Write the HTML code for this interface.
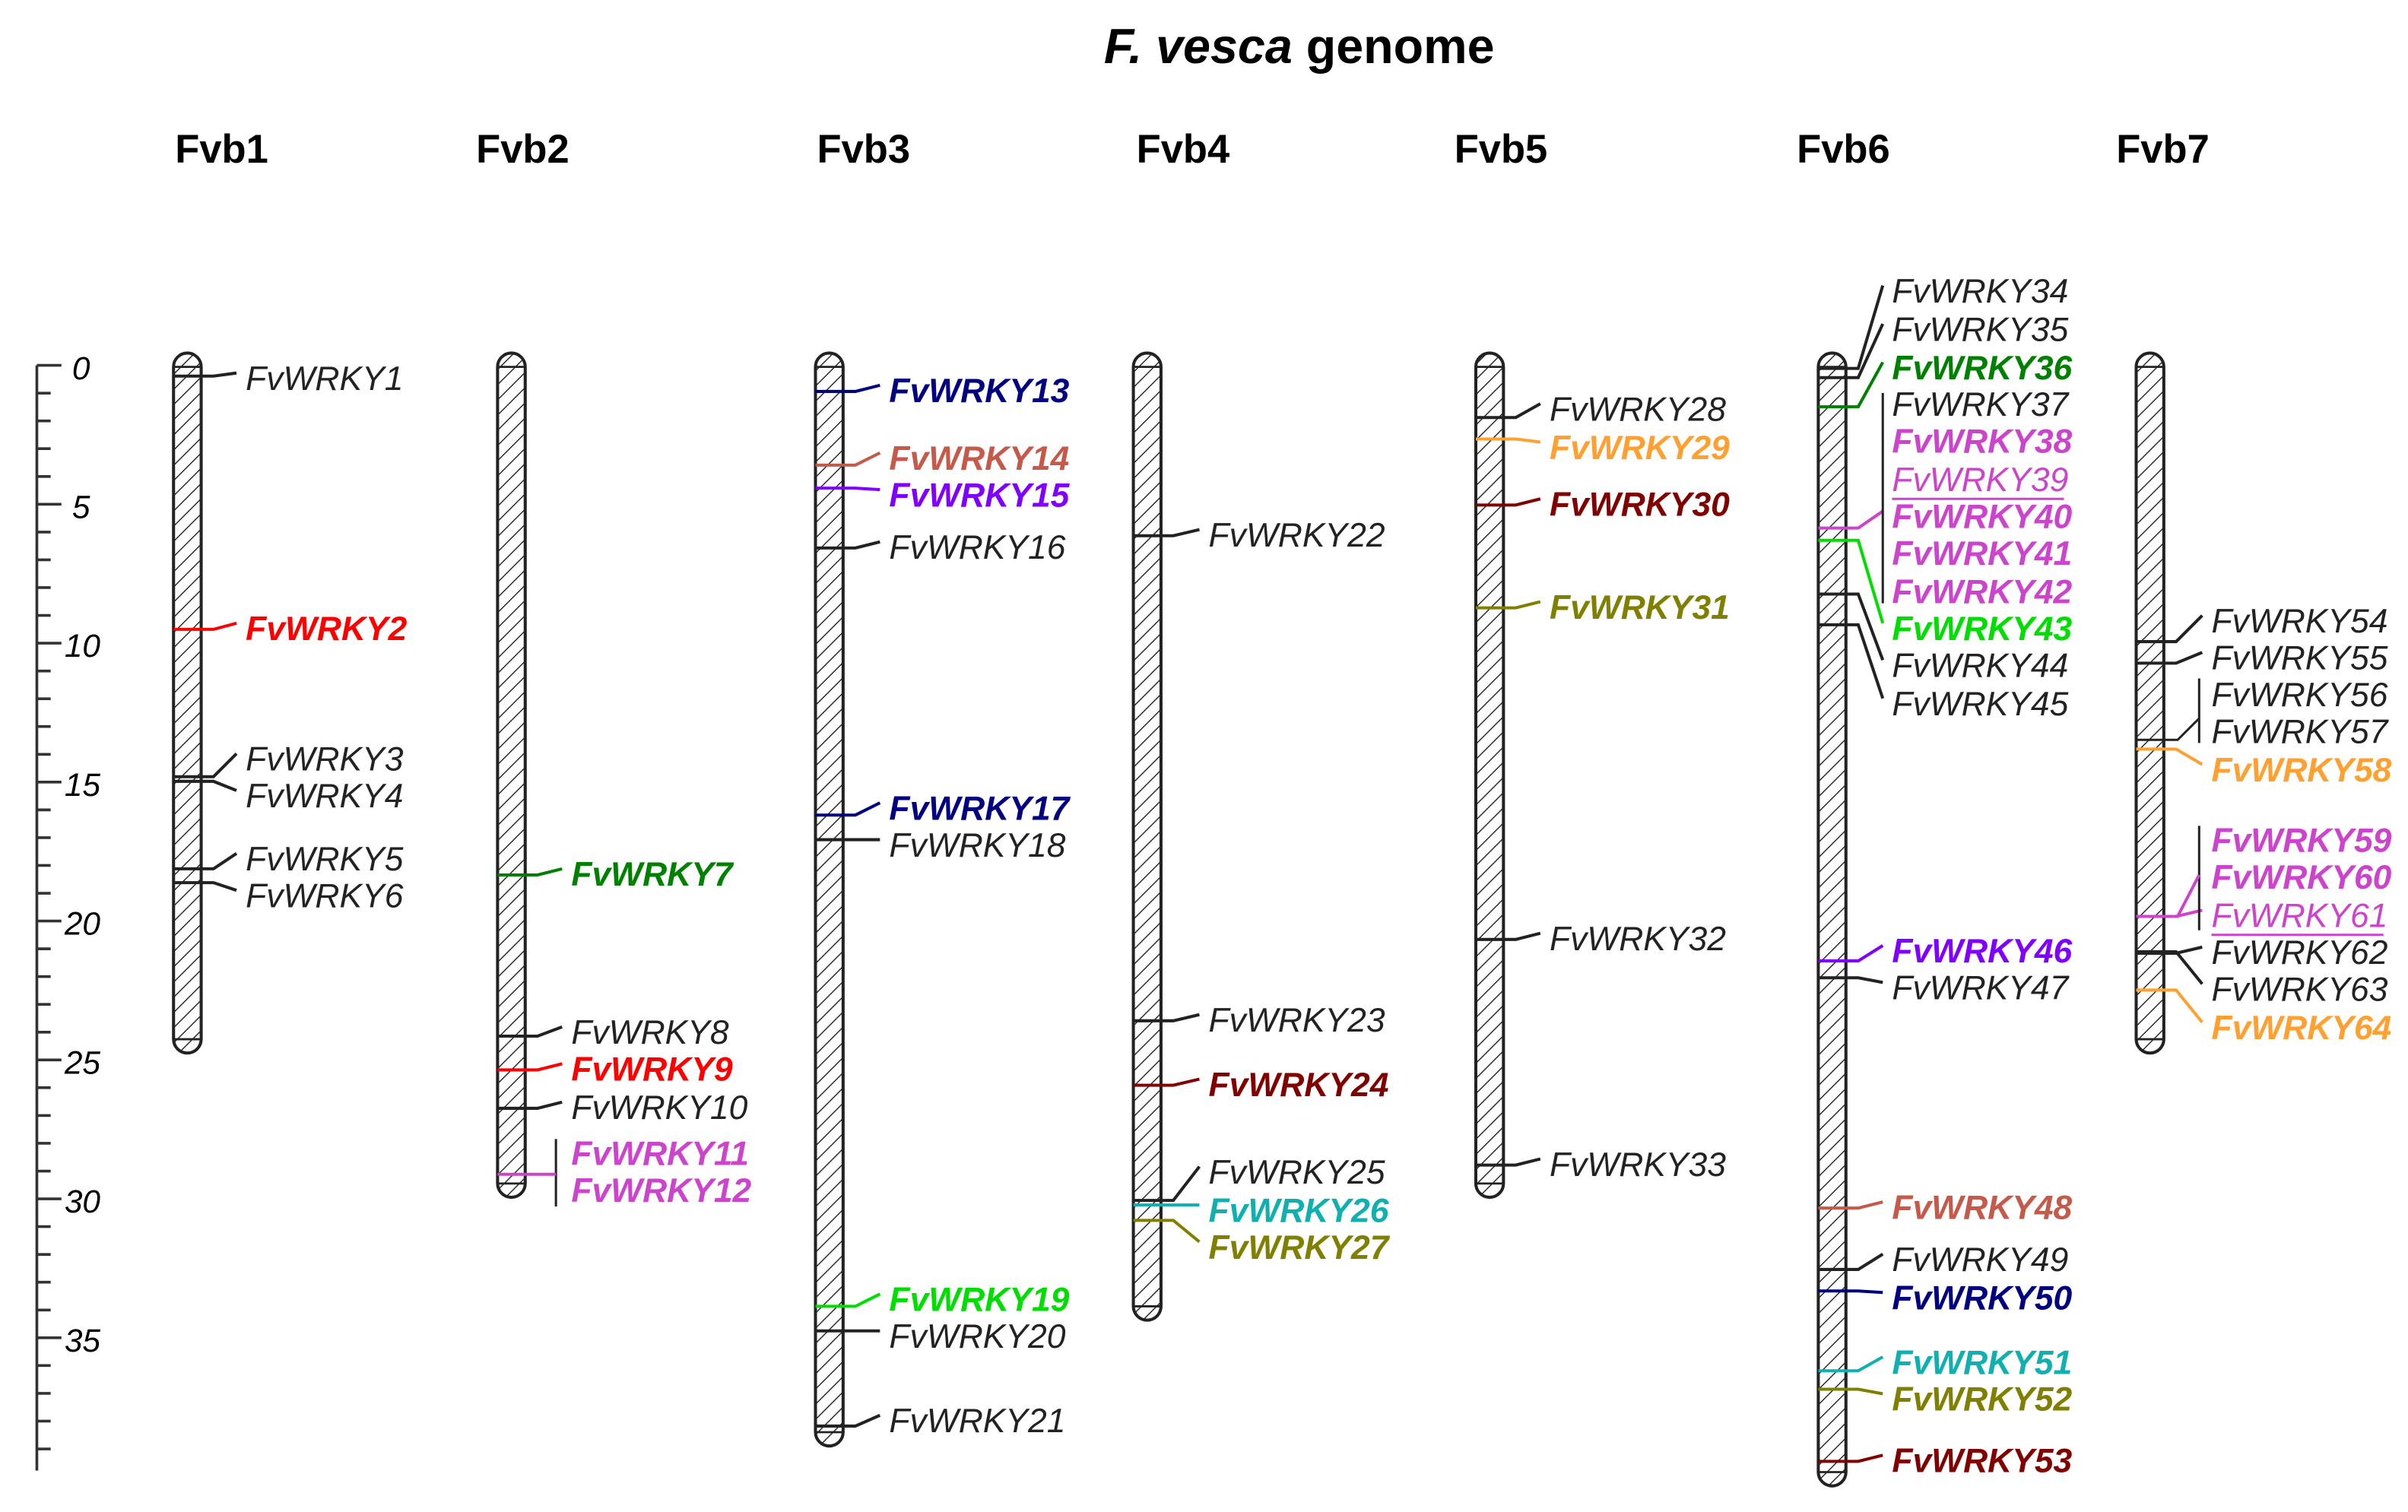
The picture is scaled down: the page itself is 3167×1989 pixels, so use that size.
<!DOCTYPE html>
<html><head><meta charset="utf-8"><style>
html,body{margin:0;padding:0;background:#fff}
svg{display:block}
text{font-family:"Liberation Sans",sans-serif}
.g{font-style:italic;font-size:22px}
.b{font-weight:bold}
</style></head><body>
<svg width="3167" height="1989" viewBox="0 0 1568 985" preserveAspectRatio="none" xmlns="http://www.w3.org/2000/svg">
<defs>
<pattern id="h" width="7" height="7" patternUnits="userSpaceOnUse" patternTransform="rotate(45)">
<line x1="0" y1="0" x2="0" y2="7" stroke="#222" stroke-width="1.4"/>
</pattern>
</defs>
<rect width="1568" height="985" fill="#fff"/>
<text x="846" y="41" text-anchor="middle" font-size="32" font-weight="bold"><tspan font-style="italic">F. vesca</tspan> genome</text>
<g font-size="26" font-weight="bold">
<text x="114" y="106">Fvb1</text><text x="310" y="106">Fvb2</text><text x="532" y="106">Fvb3</text><text x="740" y="106">Fvb4</text><text x="947" y="106">Fvb5</text><text x="1170" y="106">Fvb6</text><text x="1378" y="106">Fvb7</text>
</g>
<g id="axis" stroke="#333" stroke-width="1.8">
<line x1="24" y1="238" x2="24" y2="958"/>
</g>
<g id="ticks"></g>
<g id="chroms"></g>
<g id="labs"></g>
<script>
const NS="http://www.w3.org/2000/svg";
function el(p,t,a,txt){const e=document.createElementNS(NS,t);for(const k in a)e.setAttribute(k,a[k]);if(txt)e.textContent=txt;document.getElementById(p).appendChild(e);return e;}
for(let i=0;i<=39;i++){const y=238+i*18.1;const maj=i%5==0;el('ticks','line',{x1:24,y1:y,x2:maj?40:33,y2:y,stroke:'#333','stroke-width':1.8});
if(maj)el('ticks','text',{x:i<10?47:42,y:y+9,'font-size':21,'font-style':'italic'},String(i));}
const ch=[[113,686],[324,780],[531,942],[738,860],[961,780],[1184,968],[1391,686]];
ch.forEach(([x,b])=>{el('chroms','rect',{x:x,y:230,width:18,height:b-230,rx:9,ry:9,fill:'url(#h)',stroke:'#222','stroke-width':2});
el('chroms','line',{x1:x,y1:239,x2:x+18,y2:239,stroke:'#222','stroke-width':1.4});el('chroms','line',{x1:x,y1:b-9,x2:x+18,y2:b-9,stroke:'#222','stroke-width':1.4});});
const C={k:'#222',r:'#ff0000',g:'#008000',G:'#00dd00',n:'#000080',br:'#c55a4a',v:'#8000ff',d:'#800000',t:'#10b0b0',o:'#808000',or:'#ffa030',m:'#cc44cc'};
const L=[
[0,1,247,245,'k'],[0,2,410,410,'r',1],[0,3,495,506,'k'],[0,4,519,509,'k'],[0,5,560,566,'k'],[0,6,584,575,'k'],
[1,7,570,570,'g',1],[1,8,673,675,'k'],[1,9,697,697,'r',1],[1,10,722,722,'k'],[1,11,752,765,'m',1,0,1],[1,12,776,null,'m',1],
[2,13,255,255,'n',1],[2,14,299,303,'br',1],[2,15,323,318,'v',1],[2,16,357,357,'k'],[2,17,527,531,'n',1],[2,18,551,547,'k'],[2,19,847,851,'G',1],[2,20,871,867,'k'],[2,21,926,929,'k'],
[3,22,349,349,'k'],[3,23,665,665,'k'],[3,24,707,707,'d',1],[3,25,764,782,'k'],[3,26,789,785,'t',1],[3,27,813,795,'o',1],
[4,28,267,272,'k'],[4,29,292,286,'or',1],[4,30,329,329,'d',1],[4,31,396,396,'o',1],[4,32,612,612,'k'],[4,33,759,759,'k'],
[5,34,190,240,'k'],[5,35,215,246,'k'],[5,36,240,265,'g',1],[5,37,264,null,'k'],[5,38,288,null,'m',1],[5,39,313,null,'m',0,1],[5,40,337,344,'m',1],[5,41,361,null,'m',1],[5,42,386,null,'m',1],[5,43,410,352,'G',1],[5,44,434,387,'k'],[5,45,459,407,'k'],
[5,46,620,626,'v',1],[5,47,644,637,'k'],[5,48,787,787,'br',1],[5,49,821,827,'k'],[5,50,846,841,'n',1],[5,51,888,893,'t',1],[5,52,912,905,'o',1],[5,53,952,952,'d',1],
[6,54,405,418,'k'],[6,55,429,432,'k'],[6,56,453,null,'k'],[6,57,477,null,'k'],[6,58,502,488,'or',1],[6,59,548,null,'m',1],[6,60,572,null,'m',1],[6,61,597,597,'m',0,1],[6,62,621,621,'k'],[6,63,645,620,'k'],[6,64,670,645,'or',1]];
const TX=[160,372,579,787,1009,1232,1440];
L.forEach(([c,n,ty,ly,col,b,u,brk])=>{const x=ch[c][0],tx=TX[c],color=C[col];
if(ly!==null && !brk){el('labs','polyline',{points:`${x},${ly} ${x+18},${ly} ${x+26},${ly} ${tx-6},${ty-4}`,fill:'none',stroke:color,'stroke-width':2});}
el('labs','text',{x:tx,y:ty+7,class:'g'+(b?' b':''),fill:color},'FvWRKY'+n);
if(u)el('labs','line',{x1:tx,y1:ty+12,x2:tx+112,y2:ty+12,stroke:color,'stroke-width':1.5});});
el('labs','line',{x1:362,y1:742,x2:362,y2:786,stroke:'#222','stroke-width':1.5});
el('labs','line',{x1:324,y1:765,x2:362,y2:765,stroke:C.m,'stroke-width':2});
el('labs','line',{x1:1226,y1:256,x2:1226,y2:393,stroke:'#222','stroke-width':1.5});
el('labs','line',{x1:1432,y1:442,x2:1432,y2:484,stroke:'#222','stroke-width':1.5});
el('labs','polyline',{points:'1391,482 1418,482 1432,468',fill:'none',stroke:'#222','stroke-width':1.5});
el('labs','line',{x1:1432,y1:538,x2:1432,y2:606,stroke:'#222','stroke-width':1.5});
el('labs','polyline',{points:'1391,597 1418,597 1432,570',fill:'none',stroke:C.m,'stroke-width':2});
</script>
</svg>
</body></html>
